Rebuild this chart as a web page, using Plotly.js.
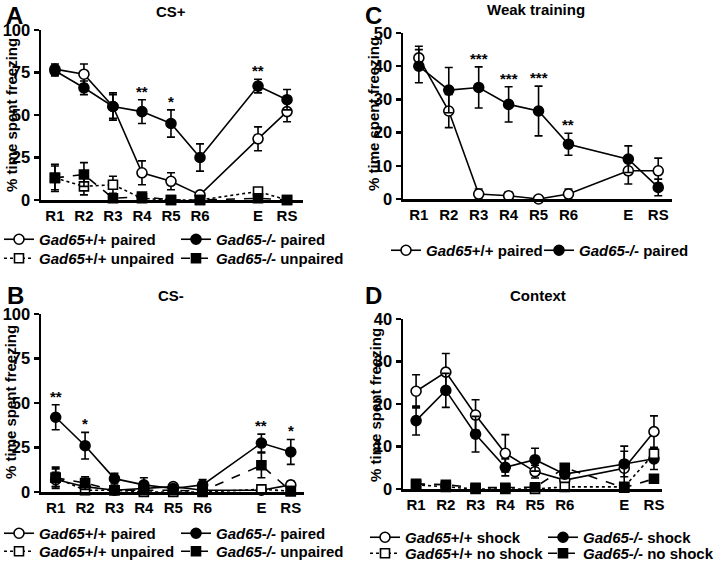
<!DOCTYPE html>
<html>
<head>
<meta charset="utf-8">
<script src="https://cdn.plot.ly/plotly-3.0.1.min.js"></script>
<style>html,body{margin:0;padding:0;background:#fff;}#chart{width:720px;height:568px;}</style>
</head>
<body>
<div id="chart"></div>
<script>
// ---------- data ----------
const categories = ['R1','R2','R3','R4','R5','R6','E','RS'];
const axisCategories = ['R1','R2','R3','R4','R5','R6',' ','E','RS'];

// Panel A: CS+
const aWtPaired = [77, 74, 55, 16, 11, 3, 36, 52];
const aWtPairedErr = [3, 6, 8, 7, 5, 1, 7, 6];
const aKoPaired = [76, 66, 55, 52, 45, 25, 67, 59];
const aKoPairedErr = [3, 4, 7, 7, 8, 8, 4, 6];
const aWtUnpaired = [13, 8, 9, 1, 0, 0, 5, 0];
const aWtUnpairedErr = [8, 5, 5, 1, 0, 0, 1, 0];
const aKoUnpaired = [13, 15, 1, 2, 0, 0, 1, 0];
const aKoUnpairedErr = [7, 7, 1, 1, 0, 0, 1, 0];
const aSig = ['', '', '', '**', '*', '', '**', ''];

// Panel B: CS-
const bWtPaired = [7, 3, 1, 2, 3, 1, 1, 4];
const bWtPairedErr = [4, 2, 1, 1, 1, 1, 1, 2];
const bKoPaired = [42, 26, 7.5, 4, 2, 4, 27.5, 22.5];
const bKoPairedErr = [7, 7.5, 3, 4, 1, 3, 5, 7];
const bWtUnpaired = [8, 1, 1, 0, 0, 0, 1.5, 0.5];
const bWtUnpairedErr = [5, 1, 1, 0, 0, 0, 1, 0];
const bKoUnpaired = [8, 5, 1, 1, 1, 0.5, 15, 0.5];
const bKoUnpairedErr = [6, 3.5, 1, 1, 0, 0, 7, 0];
const bSig = ['**', '*', '', '', '', '', '**', '*'];

// Panel C: Weak training
const cWtPaired = [42.5, 26.5, 1.5, 1, 0, 1.5, 8.5, 8.5];
const cWtPairedErr = [3.5, 5, 1.5, 1, 0.5, 1.5, 4, 3.8];
const cKoPaired = [40, 32.8, 33.6, 28.5, 26.5, 16.5, 12, 3.5];
const cKoPairedErr = [5, 6.8, 6.2, 5.3, 7.5, 3.3, 4, 2.5];
const cSig = ['', '', '***', '***', '***', '**', '', ''];

// Panel D: Context
const dWtShock = [23, 27.5, 17.4, 8.4, 4.1, 2.1, 4.9, 13.5];
const dWtShockErr = [3.9, 4.4, 3.6, 4.4, 1.5, 1, 5.2, 3.7];
const dKoShock = [16.1, 23.2, 12.9, 5.1, 6.9, 3.5, 5.9, 7.1];
const dKoShockErr = [3.4, 4, 4.2, 2, 2.7, 1, 3, 2.5];
const dWtNoShock = [1, 0.5, 0, 0, 0, 0.5, 0.5, 8.3];
const dWtNoShockErr = [0, 0, 0, 0, 0, 0, 0, 1];
const dKoNoShock = [1.2, 1, 0.3, 0.3, 0.4, 5, 0.3, 2.4];
const dKoNoShockErr = [0, 0, 0, 0, 0, 0, 0, 0];

// ---------- styling ----------
const FONT = 'Arial, "Liberation Sans", sans-serif';
const styles = {
  wtPaired:   {symbol: 'circle', fill: '#fff', dash: 'solid', size: 10},
  koPaired:   {symbol: 'circle', fill: '#000', dash: 'solid', size: 10},
  wtUnpaired: {symbol: 'square', fill: '#fff', dash: 'dot',   size: 9},
  koUnpaired: {symbol: 'square', fill: '#000', dash: 'dash',  size: 9}
};

function trace(y, err, style, name, xa, ya, legend) {
  const st = styles[style];
  return {
    type: 'scatter', mode: 'lines+markers',
    x: categories, y: y, name: name,
    xaxis: xa, yaxis: ya, legend: legend,
    cliponaxis: false,
    line: {color: '#000', width: 1.6, dash: st.dash},
    marker: {symbol: st.symbol, size: st.size, color: st.fill,
             line: {color: '#000', width: 1.6}},
    error_y: {type: 'data', array: err, visible: true, color: '#000', thickness: 1.6, width: 4}
  };
}
const wt = '<i>Gad65</i>+/+ ';
const ko = '<i>Gad65-/-</i> ';

const data = [
  trace(aWtPaired, aWtPairedErr, 'wtPaired', wt + 'paired', 'x', 'y', 'legend'),
  trace(aKoPaired, aKoPairedErr, 'koPaired', ko + 'paired', 'x', 'y', 'legend'),
  trace(aWtUnpaired, aWtUnpairedErr, 'wtUnpaired', wt + 'unpaired', 'x', 'y', 'legend2'),
  trace(aKoUnpaired, aKoUnpairedErr, 'koUnpaired', ko + 'unpaired', 'x', 'y', 'legend2'),

  trace(bWtPaired, bWtPairedErr, 'wtPaired', wt + 'paired', 'x2', 'y2', 'legend3'),
  trace(bKoPaired, bKoPairedErr, 'koPaired', ko + 'paired', 'x2', 'y2', 'legend3'),
  trace(bWtUnpaired, bWtUnpairedErr, 'wtUnpaired', wt + 'unpaired', 'x2', 'y2', 'legend4'),
  trace(bKoUnpaired, bKoUnpairedErr, 'koUnpaired', ko + 'unpaired', 'x2', 'y2', 'legend4'),

  trace(cWtPaired, cWtPairedErr, 'wtPaired', wt + 'paired', 'x3', 'y3', 'legend5'),
  trace(cKoPaired, cKoPairedErr, 'koPaired', ko + 'paired', 'x3', 'y3', 'legend5'),

  trace(dWtShock, dWtShockErr, 'wtPaired', wt + 'shock', 'x4', 'y4', 'legend6'),
  trace(dKoShock, dKoShockErr, 'koPaired', ko + 'shock', 'x4', 'y4', 'legend6'),
  trace(dWtNoShock, dWtNoShockErr, 'wtUnpaired', wt + 'no shock', 'x4', 'y4', 'legend7'),
  trace(dKoNoShock, dKoNoShockErr, 'koUnpaired', ko + 'no shock', 'x4', 'y4', 'legend7')
];

function xaxis(domain, range, anchor) {
  return {
    domain: domain, anchor: anchor, type: 'category',
    categoryorder: 'array', categoryarray: axisCategories,
    range: range, showgrid: false, zeroline: false,
    showline: true, linecolor: '#000', linewidth: 2.5,
    ticks: '', tickfont: {family: FONT, size: 15, color: '#000', weight: 'bold'}
  };
}
function yaxis(domain, range, dtick, anchor) {
  return {
    domain: domain, anchor: anchor, range: range, dtick: dtick,
    showgrid: false, zeroline: false, showline: true, linecolor: '#000', linewidth: 2.5,
    ticks: 'outside', ticklen: 5, tickwidth: 2.5, tickcolor: '#000',
    tickfont: {family: FONT, size: 16.5, color: '#000', weight: 'bold'}
  };
}

function sigAnnots(sig, ys, errs, xref, yref) {
  const out = [];
  sig.forEach((s, i) => {
    if (!s) return;
    out.push({text: s, x: categories[i], y: ys[i] + errs[i], xref: xref, yref: yref,
      showarrow: false, yanchor: 'bottom', yshift: -2,
      font: {family: FONT, size: 15, color: '#000', weight: 'bold'}});
  });
  return out;
}

function lbl(text, x, y, size, extra) {
  return Object.assign({text: text, x: x / 720, y: 1 - y / 568, xref: 'paper', yref: 'paper',
    showarrow: false, xanchor: 'center', yanchor: 'middle',
    font: {family: FONT, size: size, color: '#000', weight: 'bold'}}, extra || {});
}

const annotations = [
  lbl('A', 14, 0, 24, {yanchor: 'top'}), lbl('B', 15, 280, 24, {yanchor: 'top'}),
  lbl('C', 373, 0, 24, {yanchor: 'top'}), lbl('D', 373, 280, 24, {yanchor: 'top'}),
  lbl('CS+', 171, 11, 15), lbl('Weak training', 536, 9, 15),
  lbl('CS-', 171, 295, 15), lbl('Context', 538, 295, 15),
  lbl('% time spent freezing', 11, 115, 15, {textangle: -90}),
  lbl('% time spent freezing', 11, 402, 15, {textangle: -90}),
  lbl('% time spent freezing', 373, 114, 15, {textangle: -90}),
  lbl('% time spent freezing', 375, 405, 15, {textangle: -90})
].concat(
  sigAnnots(aSig, aKoPaired, aKoPairedErr, 'x', 'y'),
  sigAnnots(bSig, bKoPaired, bKoPairedErr, 'x2', 'y2'),
  sigAnnots(cSig, cKoPaired, cKoPairedErr, 'x3', 'y3')
);

function legendCfg(x, y, entrywidth) {
  return {x: x / 720, y: 1 - y / 568, xanchor: 'left', yanchor: 'top', orientation: 'h',
    entrywidth: entrywidth, entrywidthmode: 'pixels', bgcolor: 'rgba(0,0,0,0)',
    itemwidth: 30, tracegroupgap: 0, borderwidth: 0,
    font: {family: FONT, size: 15, color: '#000', weight: 'bold'}};
}

const layout = {
  width: 720, height: 568,
  margin: {l: 0, r: 0, t: 0, b: 0, autoexpand: false},
  paper_bgcolor: '#fff', plot_bgcolor: '#fff',
  showlegend: true,
  xaxis:  xaxis([41/720, 303/720], [-0.48, 8.55], 'y'),
  yaxis:  yaxis([1 - 200/568, 1 - 30/568], [0, 100], 25, 'x'),
  xaxis2: xaxis([41/720, 304/720], [-0.5, 8.45], 'y2'),
  yaxis2: yaxis([1 - 492/568, 1 - 314/568], [0, 100], 25, 'x2'),
  xaxis3: xaxis([403/720, 672/720], [-0.53, 8.46], 'y3'),
  yaxis3: yaxis([1 - 199/568, 1 - 33/568], [0, 50], 10, 'x3'),
  xaxis4: xaxis([403/720, 662/720], [-0.44, 8.27], 'y4'),
  yaxis4: yaxis([1 - 489/568, 1 - 319/568], [0, 40], 10, 'x4'),
  legend:  legendCfg(-1, 223, 132),
  legend2: legendCfg(-1, 242, 132),
  legend3: legendCfg(-1, 517, 132),
  legend4: legendCfg(-1, 535, 132),
  legend5: legendCfg(386, 234, 108),
  legend6: legendCfg(365, 521, 133),
  legend7: legendCfg(365, 537, 133),
  annotations: annotations
};

Plotly.newPlot('chart', data, layout, {displayModeBar: false, staticPlot: true});
</script>
</body>
</html>
